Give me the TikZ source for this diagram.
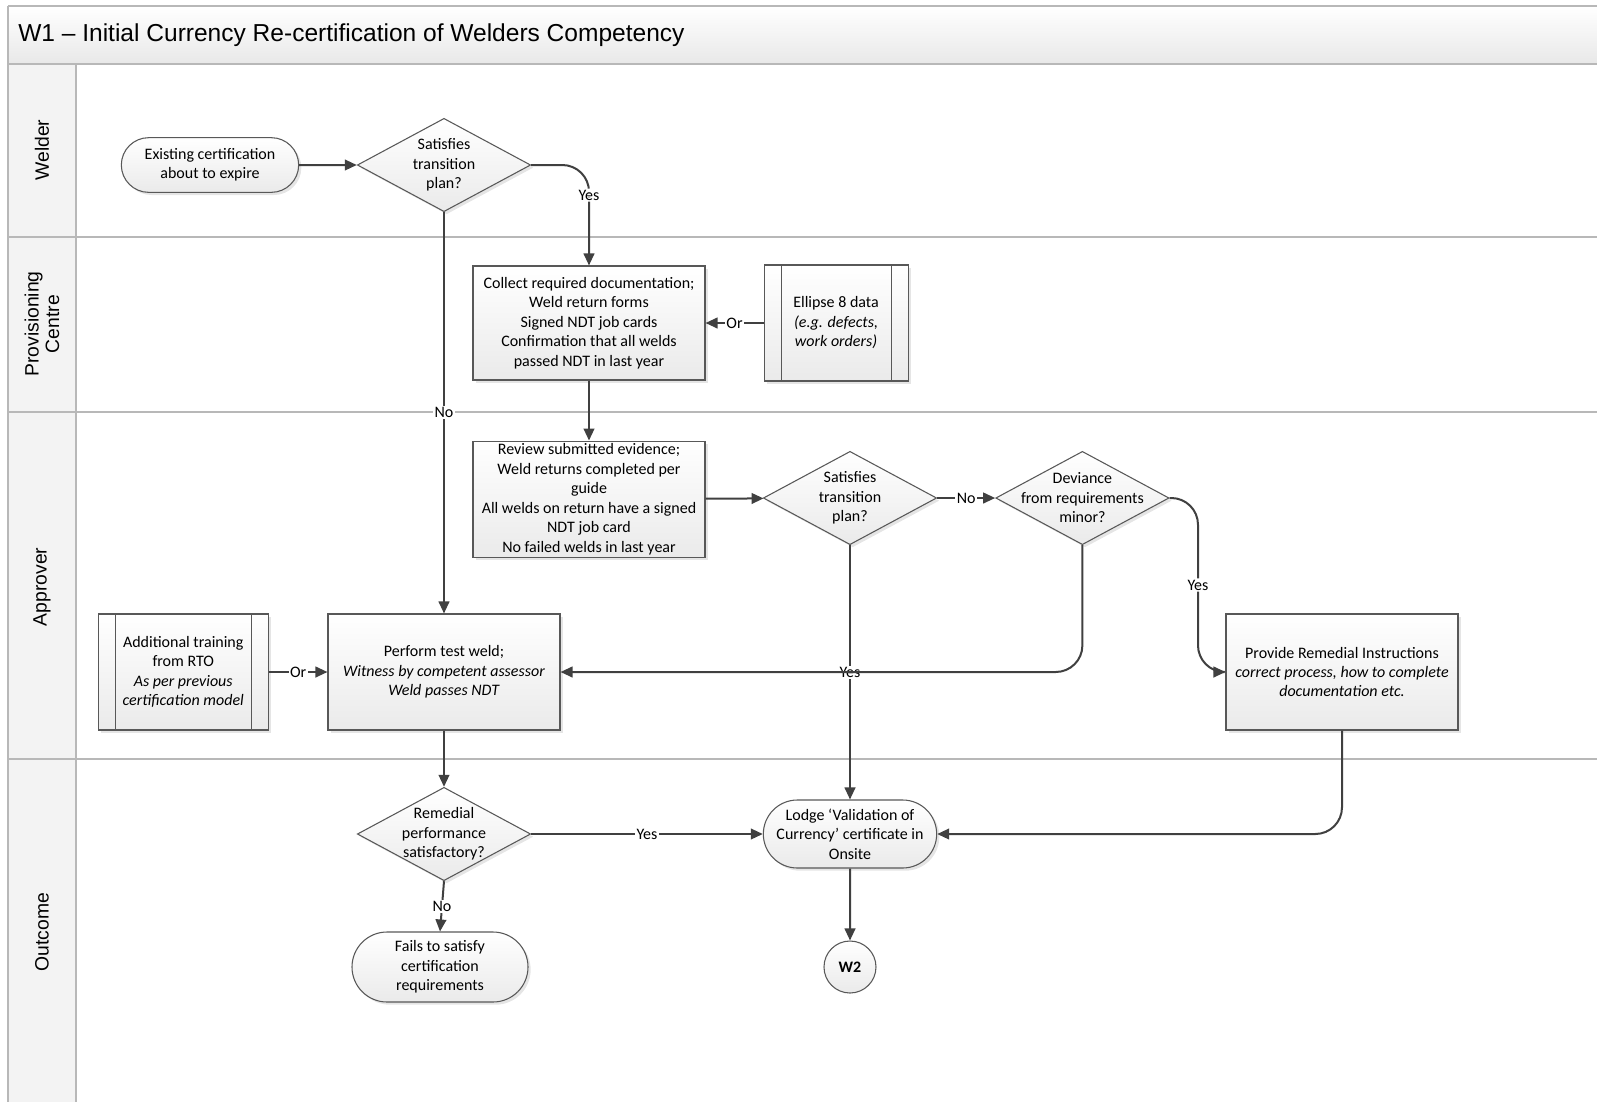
\documentclass[tikz,border=0pt]{standalone}
\usepackage{fontspec}
\setmainfont{Carlito}
\newfontfamily\lanefont{Liberation Sans}
\usepackage{tikz}
\usetikzlibrary{shapes.geometric, shapes.misc, arrows.meta, positioning, shadows}
\definecolor{myline}{RGB}{64,64,64}
\definecolor{myborder}{RGB}{88,88,88}
\definecolor{mylane}{RGB}{184,184,184}
\definecolor{myshade}{RGB}{234,234,234}
\definecolor{mylanefill}{RGB}{243,243,243}
\newcommand{\flowfont}{\fontsize{12}{14.6}\selectfont}
\newcommand{\titlefont}{\lanefont\fontsize{18.4}{22}\selectfont}
\newcommand{\lanetextfont}{\lanefont\fontsize{14.5}{15.5}\selectfont}
\tikzset{
  procbox/.style={rectangle, draw=myborder, top color=white, bottom color=myshade,
    line width=0.8pt, align=center, minimum width=174pt, minimum height=87pt,
    inner sep=2pt, font=\flowfont, boxshadow},
  subbox/.style={procbox, minimum width=108pt,
    path picture={
      \draw[myborder, line width=0.8pt]
        ([xshift=12.75pt]path picture bounding box.north west) --
        ([xshift=12.75pt]path picture bounding box.south west);
      \draw[myborder, line width=0.8pt]
        ([xshift=-12.75pt]path picture bounding box.north east) --
        ([xshift=-12.75pt]path picture bounding box.south east);}},
  decision/.style={diamond, aspect=1.85, draw=myborder, top color=white, bottom color=myshade,
    line width=0.8pt, align=center, minimum width=130pt, minimum height=70pt,
    inner sep=-16pt, font=\flowfont, boxshadow},
  terminal/.style={rounded rectangle, draw=myborder, top color=white, bottom color=myshade,
    line width=0.8pt, align=center, minimum width=137pt, minimum height=41pt,
    inner sep=2pt, font=\flowfont, boxshadow},
  offpage/.style={circle, draw=myborder, top color=white, bottom color=myshade,
    line width=0.8pt, minimum size=39pt, inner sep=0pt, font=\flowfont\bfseries},
  boxshadow/.style={drop shadow={shadow xshift=2pt, shadow yshift=-2pt, fill=black!10, opacity=1}},
  arrow/.style={-{Triangle[length=9pt, width=8pt]}, line width=1.5pt, color=myline},
  edgelabel/.style={fill=white, inner sep=1pt, font=\flowfont, text=black},
  laneline/.style={line width=1.3pt, color=mylane},
  lanelabel/.style={rotate=90, align=center, font=\lanetextfont}
}

\begin{document}
\begin{tikzpicture}[x=0.75pt, y=-0.75pt, font=\flowfont]
  \useasboundingbox (0,0) rectangle (1597,1101);

  % Pool with title and lanes
  \fill[top color=white, bottom color=black!9] (8,6) rectangle (1600,64);
  \fill[mylanefill] (8,64) rectangle (76,1105);
  \draw[laneline] (8,6) -- (1600,6);
  \draw[laneline] (8,6) -- (8,1105);
  \draw[laneline] (76,64) -- (76,1105);
  \foreach \ly in {64,237,412,759}
    \draw[laneline] (8,\ly) -- (1600,\ly);
  \node[anchor=west, inner sep=0pt, font=\titlefont] (title) at (18,35)
    {W1 – Initial Currency Re-certification of Welders Competency};
  \node[lanelabel] (lwelder) at (42,150) {Welder};
  \node[lanelabel] (lprov) at (42,324) {Provisioning\\Centre};
  \node[lanelabel] (lapprover) at (42,587) {Approver};
  \node[lanelabel] (loutcome) at (42,932) {Outcome};

  % Welder
  \node[terminal] (start) at (210,165) {Existing certification\\about to expire};
  \node[decision] (dec1) at (444,165) {Satisfies\\transition\\plan?};

  % Provisioning Centre
  \node[procbox, minimum height=85.5pt] (collect) at (589,323)
    {Collect required documentation;\\Weld return forms\\Signed NDT job cards\\Confirmation that all welds\\passed NDT in last year};
  \node[subbox, right=43.5pt of collect] (ellipse)
    {Ellipse 8 data\\\textit{(e.g. defects,}\\\textit{work orders)}};

  % Approver
  \node[procbox, below=45pt of collect] (review)
    {Review submitted evidence;\\Weld returns completed per\\guide\\All welds on return have a signed\\NDT job card\\No failed welds in last year};
  \node[decision] (dec2) at (850,498) {Satisfies\\transition\\plan?};
  \node[decision, right=43.5pt of dec2] (dec3) {Deviance\\from requirements\\minor?};
  \node[procbox] (testweld) at (444,672)
    {Perform test weld;\\\textit{Witness by competent assessor}\\\textit{Weld passes NDT}};
  \node[subbox, minimum width=127.5pt, left=44pt of testweld] (training)
    {Additional training\\from RTO\\\textit{As per previous}\\\textit{certification model}};
  \node[procbox] (remedial) at (1342,672)
    {Provide Remedial Instructions\\\textit{correct process, how to complete}\\\textit{documentation etc.}};
  \coordinate (yesturn) at (1198,585);

  % Outcome
  \node[decision] (dec4) at (444,834) {Remedial\\performance\\satisfactory?};
  \node[terminal, minimum width=134pt, minimum height=51pt] (lodge) at (dec2 |- dec4)
    {Lodge ‘Validation of\\Currency’ certificate in\\Onsite};
  \node[terminal, minimum width=136pt, minimum height=52.5pt] (fail) at (440,967)
    {Fails to satisfy\\certification\\requirements};
  \node[offpage] (wtwo) at (lodge |- fail) {W2};

  % Connectors
  \draw[arrow] (start) -- (dec1);
  \draw[arrow, rounded corners=20pt] (dec1.east) -| node[edgelabel, pos=0.65] {Yes} (collect.north);
  \draw[arrow] (dec1.south) -- node[edgelabel] {No} (testweld.north);
  \draw[arrow] (ellipse) -- node[edgelabel] {Or} (collect);
  \draw[arrow] (collect) -- (review);
  \draw[arrow] (review) -- (dec2);
  \draw[arrow] (dec2) -- node[edgelabel] {No} (dec3);
  \draw[arrow] (dec2.south) -- node[edgelabel] {Yes} (lodge.north);
  \draw[arrow, rounded corners=20pt] (dec3.south) |- (testweld.east);
  \draw[arrow, rounded corners=20pt] (dec3.east) -| (yesturn) node[edgelabel] {Yes} |- (remedial.west);
  \draw[arrow, rounded corners=20pt] (remedial.south) |- (lodge.east);
  \draw[arrow] (training) -- node[edgelabel] {Or} (testweld);
  \draw[arrow] (testweld) -- (dec4);
  \draw[arrow] (dec4) -- node[edgelabel] {Yes} (lodge);
  \draw[arrow] (dec4.south) -- node[edgelabel] {No} (fail.north);
  \draw[arrow] (lodge) -- (wtwo);
\end{tikzpicture}
\end{document}
